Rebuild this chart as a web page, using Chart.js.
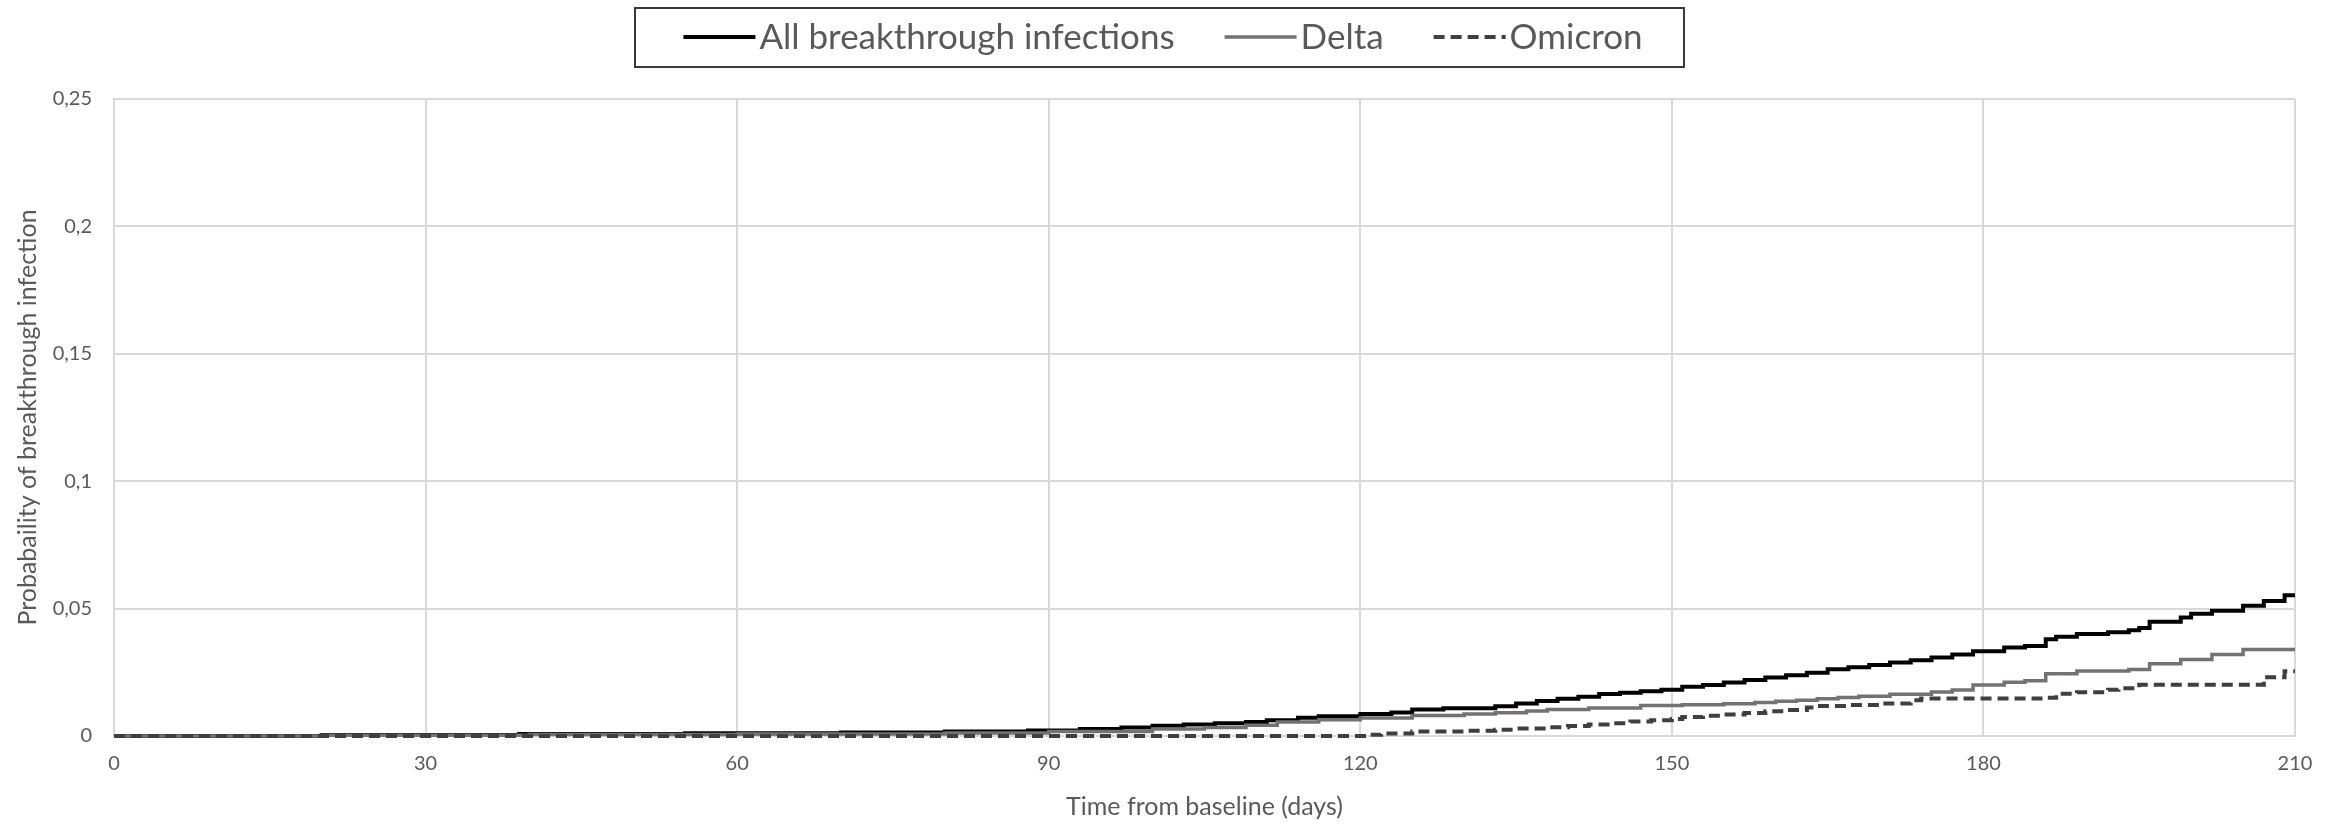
<!DOCTYPE html>
<html>
<head>
<meta charset="utf-8">
<title>Breakthrough infections</title>
<script src="https://cdn.jsdelivr.net/npm/chart.js@4.4.1/dist/chart.umd.min.js"></script>
<style>
  html, body { margin: 0; padding: 0; background: #ffffff; }
  #wrap { width: 2340px; height: 824px; }
</style>
</head>
<body>
<div id="wrap"><canvas id="c" width="2340" height="824"></canvas></div>
<script>
// Cumulative probability of breakthrough infection (Kaplan-Meier style steps)
const allDays = [0, 20, 39, 55, 70, 80, 88, 93, 97, 100, 103, 106, 109, 111, 114, 116, 120, 123, 125, 128, 133, 135, 137, 139, 141, 143, 145, 147, 149, 151, 153, 155, 157, 159, 161, 163, 165, 167, 169, 171, 173, 175, 177, 179, 182, 184, 186, 187, 189, 192, 194, 195, 196, 199, 200, 202, 205, 207, 209, 210];
const allValues = [0, 0.0004, 0.0008, 0.0011, 0.0014, 0.0018, 0.0022, 0.0027, 0.0033, 0.0040, 0.0045, 0.0050, 0.0055, 0.0062, 0.0072, 0.0078, 0.0086, 0.0092, 0.0104, 0.0109, 0.0117, 0.0128, 0.0137, 0.0146, 0.0154, 0.0165, 0.0170, 0.0176, 0.0182, 0.0193, 0.0200, 0.0210, 0.0220, 0.0230, 0.0238, 0.0248, 0.0262, 0.0270, 0.0279, 0.0288, 0.0297, 0.0308, 0.0320, 0.0333, 0.0347, 0.0353, 0.0380, 0.0390, 0.0400, 0.0407, 0.0415, 0.0424, 0.0448, 0.0465, 0.0480, 0.0492, 0.0511, 0.0530, 0.0552, 0.0552];

const deltaDays = [0, 20, 40, 60, 80, 90, 100, 105, 109, 112, 116, 120, 125, 130, 133, 136, 138, 142, 147, 151, 155, 158, 160, 162, 164, 166, 168, 171, 175, 177, 179, 182, 184, 186, 189, 194, 196, 199, 202, 205, 210];
const deltaValues = [0, 0.0003, 0.0006, 0.0008, 0.0012, 0.0018, 0.0027, 0.0033, 0.0042, 0.0055, 0.0064, 0.0071, 0.0080, 0.0086, 0.0091, 0.0098, 0.0104, 0.0110, 0.0120, 0.0123, 0.0127, 0.0131, 0.0136, 0.0140, 0.0146, 0.0151, 0.0156, 0.0164, 0.0173, 0.0181, 0.0200, 0.0211, 0.0217, 0.0244, 0.0255, 0.0261, 0.0284, 0.0300, 0.0320, 0.0339, 0.0339];

const omicronDays = [0, 121, 122, 125, 130, 133, 135, 138, 140, 142, 144, 146, 148, 150, 151, 153, 155, 157, 159, 161, 163, 164, 167, 170, 173, 174, 186, 187, 189, 192, 193, 195, 207, 209, 210];
const omicronValues = [0, 0.0005, 0.0010, 0.0018, 0.0021, 0.0025, 0.0029, 0.0034, 0.0039, 0.0045, 0.0050, 0.0057, 0.0062, 0.0067, 0.0075, 0.0079, 0.0084, 0.0090, 0.0097, 0.0102, 0.0112, 0.0118, 0.0122, 0.0128, 0.0140, 0.0147, 0.0150, 0.0166, 0.0172, 0.0182, 0.0187, 0.0201, 0.0231, 0.0254, 0.0254];

const seriesNames = ['All breakthrough infections', 'Delta', 'Omicron'];
const xTickLabels = ['0', '30', '60', '90', '120', '150', '180', '210'];
const yTickLabels = ['0', '0,05', '0,1', '0,15', '0,2', '0,25'];

const toPoints = (days, vals) => days.map((d, i) => ({ x: d, y: vals[i] }));

// Boxed legend centred above the plot, one line sample per series
const boxedLegend = {
  id: 'boxedLegend',
  afterDraw(chart) {
    const ctx = chart.ctx;
    ctx.save();
    ctx.strokeStyle = '#3a3a3a';
    ctx.lineWidth = 2;
    ctx.strokeRect(635, 8, 1049, 59);
    ctx.font = '35px Lato';
    const sets = chart.data.datasets;
    const sample = 72, gap = 4, itemGap = 50;
    const widths = sets.map(d => ctx.measureText(d.label).width);
    const total = widths.reduce((a, w) => a + sample + gap + w, 0) + itemGap * (sets.length - 1);
    let x = 1163 - total / 2;
    const y = 37;
    sets.forEach((d, i) => {
      ctx.beginPath();
      ctx.setLineDash(d.borderDash || []);
      ctx.strokeStyle = d.borderColor;
      ctx.lineWidth = d.borderWidth;
      ctx.moveTo(x, y);
      ctx.lineTo(x + sample, y);
      ctx.stroke();
      ctx.setLineDash([]);
      ctx.fillStyle = '#595959';
      ctx.textBaseline = 'middle';
      ctx.fillText(d.label, x + sample + gap, y + 1);
      x += sample + gap + widths[i] + itemGap;
    });
    ctx.restore();
  }
};

Chart.defaults.font.family = 'Lato';
Chart.defaults.color = '#595959';

new Chart(document.getElementById('c'), {
  type: 'line',
  data: {
    datasets: [
      {
        label: seriesNames[0],
        data: toPoints(allDays, allValues),
        borderColor: '#000000',
        borderWidth: 4,
        stepped: true,
        pointRadius: 0,
        clip: 4,
        order: 3
      },
      {
        label: seriesNames[1],
        data: toPoints(deltaDays, deltaValues),
        borderColor: '#767171',
        borderWidth: 3.5,
        stepped: true,
        pointRadius: 0,
        clip: 4,
        order: 2
      },
      {
        label: seriesNames[2],
        data: toPoints(omicronDays, omicronValues),
        borderColor: '#3f3f3f',
        borderWidth: 4,
        borderDash: [11, 6],
        stepped: true,
        pointRadius: 0,
        clip: 4,
        order: 1
      }
    ]
  },
  options: {
    responsive: false,
    animation: false,
    devicePixelRatio: 1,
    layout: { padding: { top: 99, left: 0, right: 45, bottom: 0 } },
    plugins: {
      legend: { display: false },
      tooltip: { enabled: false }
    },
    scales: {
      x: {
        type: 'linear',
        min: 0,
        max: 210,
        afterFit: s => { s.height = 88; },
        afterBuildTicks: s => { s.ticks = xTickLabels.map(t => ({ value: Number(t) })); },
        ticks: {
          padding: 16,
          font: { size: 20 },
          color: '#595959',
          maxRotation: 0,
          callback: (v, i) => xTickLabels[i]
        },
        grid: { color: '#d9d9d9', lineWidth: 2, drawTicks: false },
        border: { color: '#d9d9d9', width: 2 },
        title: {
          display: true,
          text: 'Time from baseline (days)',
          font: { size: 25 },
          color: '#595959',
          padding: { top: 0, bottom: 2 }
        }
      },
      y: {
        min: 0,
        max: 0.25,
        afterFit: s => { s.width = 114; },
        afterBuildTicks: s => { s.ticks = yTickLabels.map((t, i) => ({ value: i * 0.05 })); },
        ticks: {
          padding: 22,
          font: { size: 20 },
          color: '#595959',
          callback: (v, i) => yTickLabels[i]
        },
        grid: { color: '#d9d9d9', lineWidth: 2, drawTicks: false },
        border: { color: '#d9d9d9', width: 2 },
        title: {
          display: true,
          text: 'Probabaility of breakthrough infection',
          font: { size: 25 },
          color: '#595959',
          padding: { top: 13, bottom: 0 }
        }
      }
    }
  },
  plugins: [boxedLegend]
});
</script>
</body>
</html>
